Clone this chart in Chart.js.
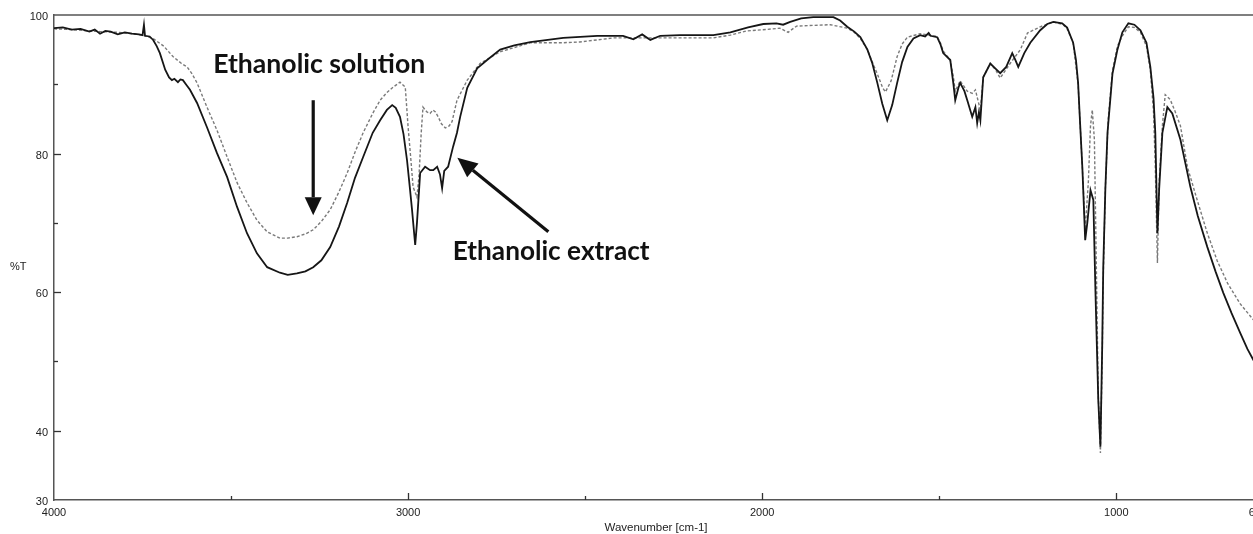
<!DOCTYPE html>
<html><head><meta charset="utf-8">
<script src="https://cdn.jsdelivr.net/npm/chart.js@4.4.0/dist/chart.umd.min.js"></script>
<style>html,body{margin:0;padding:0;background:#fff;overflow:hidden}#wrap{width:1253px;height:534px;overflow:hidden;position:relative;background:#fff}canvas{display:block}</style>
</head><body><div id="wrap"><canvas id="c" width="1280" height="534" style="width:1280px;height:534px"></canvas></div>
<script>
// Ethanolic extract (solid black)
const extractWavenumber = [
  4000,3975,3950,3925,3900,3885,3870,3855,3840,3820,
  3800,3780,3760,3750,3746,3743,3730,3720,3710,3701,
  3686,3675,3667,3660,3650,3643,3636,3626,3616,3596,
  3568,3540,3511,3483,3455,3427,3398,3362,3340,3314,
  3290,3268,3245,3220,3195,3172,3150,3127,3100,3079,
  3060,3045,3035,3023,3013,3003,2995,2989,2980,2975,
  2966,2952,2938,2929,2918,2910,2904,2898,2887,2873,
  2862,2853,2833,2805,2777,2740,2700,2655,2562,2466,
  2393,2364,2339,2316,2288,2232,2138,2090,2040,1997,
  1960,1941,1921,1890,1856,1799,1780,1760,1740,1723,
  1703,1689,1675,1661,1647,1633,1619,1605,1590,1573,
  1554,1540,1530,1525,1506,1497,1489,1469,1460,1455,
  1446,1441,1429,1421,1407,1398,1393,1388,1384,1376,
  1356,1342,1328,1311,1294,1285,1277,1260,1243,1215,
  1195,1178,1153,1139,1122,1114,1108,1103,1096,1088,
  1082,1073,1065,1059,1051,1045,1040,1037,1031,1025,
  1011,997,983,966,949,932,915,904,895,890,
  884,879,870,856,842,819,791,770,743,720,
  698,675,650,630,613,600];
const extractT = [
  98.1,98.2,97.9,98.0,97.6,97.9,97.3,97.7,97.6,97.2,
  97.5,97.3,97.2,97.1,98.6,97.0,96.9,96.4,95.5,94.5,
  92.1,91.0,90.6,90.8,90.3,90.7,90.6,89.9,89.2,87.3,
  83.8,80.1,76.6,72.3,68.5,65.6,63.6,62.8,62.5,62.7,
  63.0,63.6,64.6,66.5,69.5,72.9,76.5,79.5,83.0,84.8,
  86.3,87.0,86.6,85.3,82.8,79.0,75.0,71.9,66.8,70.0,
  77.2,78.1,77.6,77.6,78.1,77.0,75.0,77.5,78.1,81.0,
  83.0,85.3,89.5,92.3,93.5,95.0,95.6,96.1,96.7,97.0,
  97.0,96.5,97.2,96.4,97.0,97.1,97.1,97.5,98.2,98.7,
  98.8,98.6,99.0,99.5,99.7,99.7,99.2,98.3,97.6,96.8,
  95.0,93.0,90.2,87.2,84.8,87.0,90.2,93.2,95.4,96.6,
  97.1,96.9,97.4,97.0,96.8,95.8,94.5,93.5,90.0,87.7,
  89.5,90.2,89.0,87.7,85.3,86.7,84.4,86.0,84.8,91.0,
  93.0,92.3,91.6,92.5,94.5,93.5,92.5,94.5,96.0,97.8,
  98.7,99.0,98.8,98.2,96.0,93.5,90.2,85.0,78.0,67.5,
  70.0,74.7,73.3,60.0,44.4,37.7,52.0,63.6,75.0,83.0,
  91.5,95.0,97.5,98.8,98.6,97.8,96.0,92.5,88.0,83.0,
  68.5,75.0,83.0,86.7,85.8,82.0,75.2,71.0,66.5,63.0,
  59.9,57.0,54.1,51.8,50.2,49.8];

// Ethanolic solution (dashed grey)
const solutionWavenumber = [
  4000,3950,3900,3870,3820,3780,3749,3720,3690,3664,
  3640,3624,3610,3596,3568,3540,3511,3483,3455,3427,
  3398,3362,3340,3314,3290,3268,3245,3220,3195,3172,
  3150,3127,3100,3079,3060,3042,3023,3008,3000,2992,
  2986,2975,2969,2963,2958,2947,2938,2930,2923,2915,
  2906,2895,2884,2876,2862,2833,2797,2740,2700,2655,
  2562,2515,2420,2327,2232,2138,2090,2045,1990,1950,
  1927,1903,1808,1760,1740,1723,1703,1689,1675,1660,
  1652,1636,1619,1605,1590,1554,1506,1497,1489,1469,
  1460,1455,1441,1421,1407,1398,1390,1384,1376,1356,
  1340,1328,1300,1271,1251,1215,1178,1150,1139,1122,
  1108,1096,1088,1079,1073,1068,1062,1056,1051,1045,
  1040,1037,1031,1023,1011,997,983,966,949,932,
  915,904,895,890,884,879,870,862,848,835,
  819,799,770,743,715,686,650,613,600];
const solutionT = [
  98.0,97.9,97.7,97.6,97.5,97.3,97.1,96.6,95.5,94.0,
  93.0,92.5,91.5,90.2,86.7,83.4,79.5,75.8,72.9,70.4,
  68.7,67.8,67.8,68.0,68.4,69.0,70.2,71.9,74.5,77.2,
  80.2,83.0,85.8,87.7,88.8,89.6,90.3,89.6,83.8,79.0,
  75.2,73.7,77.0,83.0,86.7,86.0,85.8,86.3,86.0,85.3,
  84.3,83.7,84.0,84.6,87.7,90.6,93.0,94.7,95.3,96.0,
  96.0,96.1,96.7,96.7,96.7,96.7,97.1,97.7,97.9,98.1,
  97.5,98.4,98.6,98.1,97.5,96.6,95.0,93.2,91.5,89.5,
  88.9,90.5,94.0,95.8,96.8,97.3,96.9,96.0,94.8,93.5,
  91.0,89.0,90.5,89.0,88.7,89.2,87.5,86.3,91.0,93.0,
  92.0,90.9,93.0,95.0,97.4,98.3,99.0,98.6,98.0,96.0,
  90.0,78.0,69.0,76.0,84.0,86.3,82.0,62.0,45.0,36.8,
  50.0,62.0,75.0,85.0,92.0,95.5,97.0,98.3,98.2,97.5,
  95.5,92.0,86.0,78.0,64.2,76.0,84.0,88.5,87.8,86.2,
  84.0,78.0,73.0,68.5,64.5,61.3,58.3,56.0,55.5];

const xTickValues = [4000,3500,3000,2500,2000,1500,1000,600];
const xTickLabels = ['4000','','3000','','2000','','1000','600'];
const yTickValues = [30,40,50,60,70,80,90,100];
const yTickLabels = ['30','40','','60','','80','','100'];
const xTitle = 'Wavenumber [cm-1]';
const yTitle = '%T';
const labelSolution = 'Ethanolic solution';
const labelExtract = 'Ethanolic extract';

function pts(xs, ys){ return xs.map((v,i)=>({x:v, y:ys[i]})); }
function lbl(vals, labels, v){ const i = vals.indexOf(v); return i>=0 ? labels[i] : ''; }

function arrow(ctx, x1, y1, x2, y2, head, w){
  const ang = Math.atan2(y2-y1, x2-x1);
  const bx = x2 - head*Math.cos(ang), by = y2 - head*Math.sin(ang);
  ctx.beginPath(); ctx.moveTo(x1,y1); ctx.lineTo(bx,by); ctx.stroke();
  ctx.beginPath();
  ctx.moveTo(x2,y2);
  ctx.lineTo(bx + w*Math.sin(ang), by - w*Math.cos(ang));
  ctx.lineTo(bx - w*Math.sin(ang), by + w*Math.cos(ang));
  ctx.closePath(); ctx.fill();
}

function fitText(ctx, text, family, target, base){
  ctx.font = 'bold ' + base + 'px ' + family;
  const w = ctx.measureText(text).width;
  const size = Math.max(16, Math.min(30, base * target / w));
  ctx.font = 'bold ' + size.toFixed(1) + 'px ' + family;
}

const decor = {
  id: 'decor',
  afterDraw(chart){
    const {ctx, chartArea: a, scales: {x, y}} = chart;
    ctx.save();
    ctx.strokeStyle = '#555'; ctx.lineWidth = 1.5;
    ctx.beginPath(); ctx.moveTo(a.left, a.top); ctx.lineTo(a.right + 30, a.top); ctx.stroke();
    ctx.lineWidth = 1.3; ctx.strokeStyle = '#333';
    y.ticks.forEach(t => {
      if (t.value === 30 || t.value === 100) return;
      const len = lbl(yTickValues, yTickLabels, t.value) ? 7 : 4;
      const py = Math.round(y.getPixelForValue(t.value)) + 0.5;
      ctx.beginPath(); ctx.moveTo(a.left, py); ctx.lineTo(a.left + len, py); ctx.stroke();
    });
    x.ticks.forEach(t => {
      if (t.value === 4000 || t.value === 600) return;
      const len = lbl(xTickValues, xTickLabels, t.value) ? 7 : 4;
      const px = Math.round(x.getPixelForValue(t.value)) + 0.5;
      ctx.beginPath(); ctx.moveTo(px, a.bottom); ctx.lineTo(px, a.bottom - len); ctx.stroke();
    });
    // horizontal y title
    ctx.fillStyle = '#222'; ctx.font = '11px "Liberation Sans", Arial, sans-serif';
    ctx.textAlign = 'left'; ctx.textBaseline = 'middle';
    ctx.fillText(yTitle, 10, y.getPixelForValue(63.6));
    // annotations
    ctx.fillStyle = '#111'; ctx.strokeStyle = '#111'; ctx.lineWidth = 3.2;
    ctx.textAlign = 'center'; ctx.textBaseline = 'alphabetic';
    fitText(ctx, labelSolution, 'Lato, "Open Sans", sans-serif', 212, 24);
    ctx.fillText(labelSolution, x.getPixelForValue(3251), y.getPixelForValue(91.6));
    fitText(ctx, labelExtract, 'Lato, "Open Sans", sans-serif', 197, 24);
    ctx.fillText(labelExtract, x.getPixelForValue(2596), y.getPixelForValue(64.6));
    arrow(ctx, x.getPixelForValue(3268), y.getPixelForValue(87.7), x.getPixelForValue(3268), y.getPixelForValue(71.1), 18, 8.5);
    arrow(ctx, x.getPixelForValue(2604), y.getPixelForValue(68.7), x.getPixelForValue(2861), y.getPixelForValue(79.4), 20, 9);
    ctx.restore();
  }
};

new Chart(document.getElementById('c'), {
  type: 'line',
  data: {
    datasets: [
      { label: labelExtract, data: pts(extractWavenumber, extractT), borderColor: '#161616', borderWidth: 1.8, pointRadius: 0, tension: 0, fill: false },
      { label: labelSolution, data: pts(solutionWavenumber, solutionT), borderColor: '#7a7a7a', borderWidth: 1.4, borderDash: [3,2], pointRadius: 0, tension: 0, fill: false }
    ]
  },
  options: {
    responsive: false, animation: false, devicePixelRatio: 1,
    layout: { padding: { left: 0, top: 15, right: 22, bottom: 0 } },
    plugins: { legend: { display: false }, tooltip: { enabled: false } },
    scales: {
      x: {
        type: 'linear', reverse: true, min: 600, max: 4000,
        afterBuildTicks: s => { s.ticks = xTickValues.map(v => ({value: v})); },
        afterFit: s => { s.height = 34; },
        grid: { display: true, drawOnChartArea: false, drawTicks: false },
        border: { display: true, color: '#555', width: 1.5 },
        ticks: { autoSkip: false, maxRotation: 0, padding: 6, color: '#222',
          font: { family: '"Liberation Sans", Arial, sans-serif', size: 11 },
          callback: v => lbl(xTickValues, xTickLabels, v) },
        title: { display: true, text: xTitle, color: '#222', padding: {top: 0, bottom: 0},
          font: { family: '"Liberation Sans", Arial, sans-serif', size: 11.5, lineHeight: 1.0 } }
      },
      y: {
        type: 'linear', min: 30, max: 100,
        afterBuildTicks: s => { s.ticks = yTickValues.map(v => ({value: v})); },
        afterFit: s => { s.width = 54; },
        grid: { display: true, drawOnChartArea: false, drawTicks: false },
        border: { display: true, color: '#555', width: 1.5 },
        ticks: { autoSkip: false, padding: 6, labelOffset: 2, color: '#222',
          font: { family: '"Liberation Sans", Arial, sans-serif', size: 11 },
          callback: v => lbl(yTickValues, yTickLabels, v) }
      }
    }
  },
  plugins: [decor]
});
</script></body></html>
